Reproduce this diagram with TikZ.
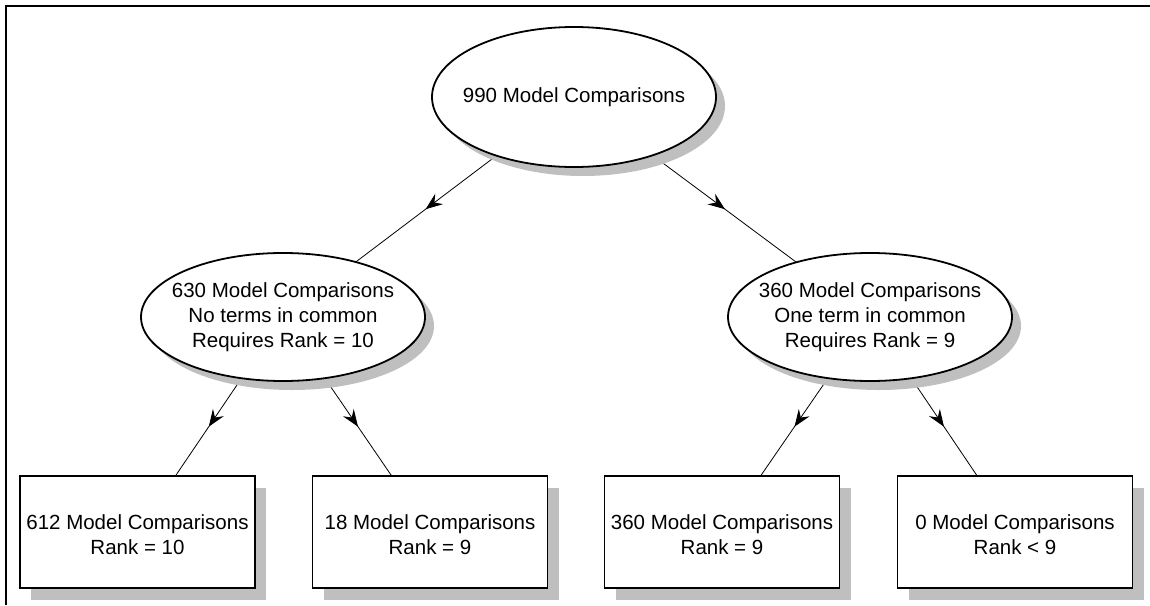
\documentclass[tikz,border=0pt]{standalone}
\usepackage{fontspec}
\setmainfont{Liberation Sans}
\usetikzlibrary{shapes.geometric,shadows,arrows.meta,decorations.markings,backgrounds}
\tikzset{
  txt/.style={font=\fontsize{20.5}{25}\selectfont, align=center, text=black},
  ovalnode/.style={ellipse, draw=black, line width=1.8pt, fill=white, inner sep=0pt,
    minimum width=284pt, minimum height=128pt,
    drop shadow={shadow xshift=9pt, shadow yshift=-9pt, fill=black!25, opacity=1}},
  boxnode/.style={rectangle, draw=black, line width=1.8pt, fill=white, inner sep=0pt,
    minimum width=235pt, minimum height=112pt,
    drop shadow={shadow xshift=11pt, shadow yshift=-12pt, fill=black!25, opacity=1}},
  link/.style={draw=black, line width=0.8pt,
    decoration={markings, mark=at position 0.51 with {\arrow{Stealth[length=17pt,width=13pt,inset=6pt]}}},
    postaction={decorate}}
}
\begin{document}
\begin{tikzpicture}[x=1pt,y=-1pt]
\useasboundingbox (0,0) rectangle (1150,605);
\draw[line width=2pt] (6,605) -- (6,6) -- (1150,6);

\node[ovalnode, minimum height=140pt, label={[txt]center:990 Model Comparisons}] (top) at (574,97) {};
\node[ovalnode, label={[txt]center:630 Model Comparisons\\No terms in common\\Requires Rank = 10}] (ml) at (283,317) {};
\node[ovalnode, label={[txt]center:360 Model Comparisons\\One term in common\\Requires Rank = 9}] (mr) at (870,317) {};

\node[boxnode, label={[txt, yshift=-3pt]center:612 Model Comparisons\\Rank = 10}] (b1) at (137.5,532) {};
\node[boxnode, label={[txt, yshift=-3pt]center:18 Model Comparisons\\Rank = 9}] (b2) at (430,532) {};
\node[boxnode, label={[txt, yshift=-3pt]center:360 Model Comparisons\\Rank = 9}] (b3) at (722,532) {};
\node[boxnode, label={[txt, yshift=-3pt]center:0 Model Comparisons\\Rank < 9}] (b4) at (1015,532) {};

\begin{scope}[on background layer]
\draw[link] (top.center) -- (ml.center);
\draw[link] (top.center) -- (mr.center);
\draw[link] (ml.center) -- (b1.center);
\draw[link] (ml.center) -- (b2.center);
\draw[link] (mr.center) -- (b3.center);
\draw[link] (mr.center) -- (b4.center);
\end{scope}
\end{tikzpicture}
\end{document}
